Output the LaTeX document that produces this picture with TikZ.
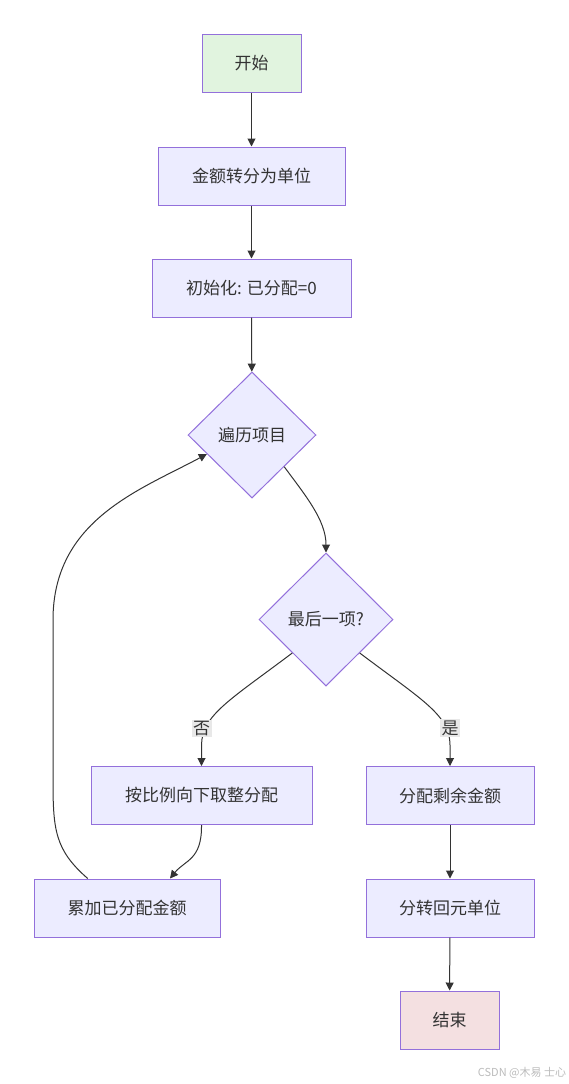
\documentclass[tikz,border=0pt]{standalone}
\usepackage{fontspec}
\usepackage{xcolor}
\usepackage{tikz}
\usetikzlibrary{calc,arrows.meta,shapes.geometric}
\newfontfamily\cjk{Noto Sans CJK SC}
\definecolor{nodefill}{HTML}{ECECFF}
\definecolor{nodeline}{HTML}{9370DB}
\definecolor{startfill}{HTML}{E1F4DF}
\definecolor{stopfill}{HTML}{F4E0E1}
\definecolor{linec}{HTML}{333333}
\definecolor{tagbg}{HTML}{E8E8E8}
\definecolor{wmark}{HTML}{BBBBBB}
\tikzset{
  box/.style={draw=nodeline, fill=nodefill, line width=1pt, minimum height=58pt, inner sep=0pt, text=linec, font=\cjk\fontsize{17}{20}\selectfont},
  decide/.style={box, shape=diamond, minimum width=128pt, minimum height=126pt},
  flow/.style={draw=linec, line width=1pt, -{Triangle[length=8pt,width=8pt]}},
  tag/.style={fill=tagbg, inner sep=1.5pt, text=linec, font=\cjk\fontsize{17}{20}\selectfont},
  wm/.style={text=wmark, font=\cjk\fontsize{11}{13}\selectfont},
}
\begin{document}
\begin{tikzpicture}[x=1pt, y=-1pt]
  \useasboundingbox (0,0) rectangle (569,1084);
  % nodes
  \node[box, fill=startfill, minimum width=99pt] (start) at (251.5,63.5) {开始};
  \node[box, minimum width=187pt] (conv) at (251.5,176) {金额转分为单位};
  \node[box, minimum width=199pt] (init) at (251.5,288) {初始化: 已分配=0};
  \node[decide] (loop) at (252,435) {遍历项目};
  \node[decide, minimum width=134pt, minimum height=133pt] (last) at (326,619.5) {最后一项?};
  \node[box, minimum width=221pt] (floor) at (201.5,795.5) {按比例向下取整分配};
  \node[box, minimum width=168pt] (rest) at (450,795.5) {分配剩余金额};
  \node[box, minimum width=186pt] (accum) at (127,908) {累加已分配金额};
  \node[box, minimum width=168pt] (back) at (450,908) {分转回元单位};
  \node[box, fill=stopfill, minimum width=99pt] (stop) at (449.5,1020) {结束};
  % edges
  \draw[flow] (start) -- (conv);
  \draw[flow] (conv) -- (init);
  \draw[flow] (init) -- (loop);
  \draw[flow] (loop.south east) .. controls (305,495) and (326,520) .. (last.north);
  \draw[flow] (last.south west) .. controls (230,700) and (202,715) .. node[tag, pos=0.8, xshift=-3.5pt] {否}
    ($(floor.north)+(0,-21)$) -- (floor.north);
  \draw[flow] (last.south east) .. controls (422,700) and (450,715) .. node[tag, pos=0.8, xshift=3.5pt] {是}
    ($(rest.north)+(0,-21)$) -- (rest.north);
  \draw[flow] (floor.south) .. controls (202,860) and (185,860) .. ($(accum.north west)!0.73!(accum.north east)$);
  \draw[flow] ($(accum.north west)!0.29!(accum.north east)$) .. controls (55,850) and (53,830) .. (53,780)
    -- (53,620) .. controls (53,520) and (140,490) .. ($(loop.west)!0.3!(loop.south)$);
  \draw[flow] (rest) -- (back);
  \draw[flow] (back) -- (stop);
  \node[wm] (mark) at (522,1073) {CSDN @木易 士心};
\end{tikzpicture}
\end{document}
